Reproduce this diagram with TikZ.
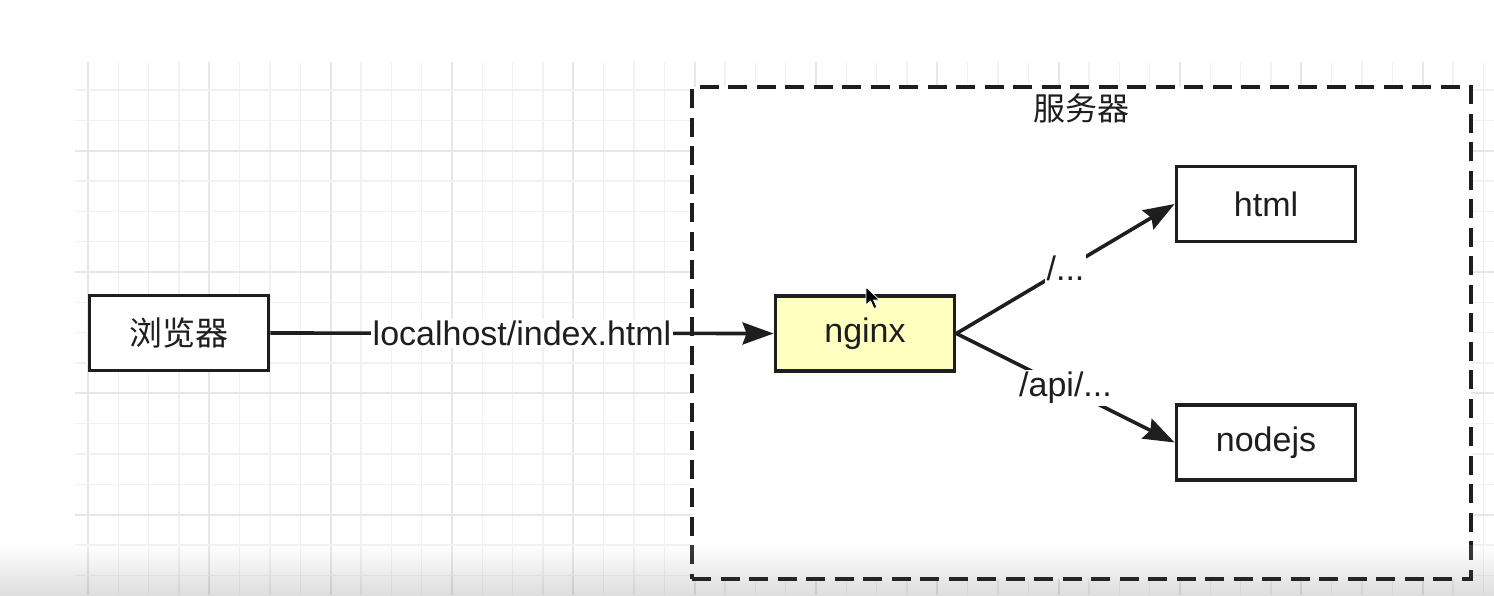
\documentclass[tikz,border=0pt]{standalone}
\usepackage{fontspec}
\setmainfont{Liberation Sans}
\newfontfamily\cjk{Noto Sans CJK SC}
\usetikzlibrary{arrows.meta}
\definecolor{linec}{HTML}{1E1E1E}
\definecolor{gridminor}{HTML}{F1F1F1}
\definecolor{gridmajor}{HTML}{E7E7E7}
\definecolor{nginxfill}{HTML}{FFFFC0}
\begin{document}
\begin{tikzpicture}[x=1pt,y=-1pt,
  gminor/.style={draw=gridminor, line width=1.4pt},
  gmajor/.style={draw=gridmajor, line width=1.8pt},
  box/.style={draw=linec, line width=3.8pt, fill=white, minimum width=179pt, minimum height=75pt, inner sep=0pt, text=linec, font=\fontsize{34}{40}\selectfont},
  flow/.style={draw=linec, line width=3.6pt, -{Stealth[length=31pt,width=22pt,inset=4pt]}},
  elabel/.style={fill=white, inner sep=2pt, text=linec, font=\fontsize{34}{40}\selectfont},
  serverbox/.style={draw=linec, line width=3.8pt, dash pattern=on 19pt off 9.5pt, fill=white, minimum width=779pt, minimum height=492pt, inner sep=0pt},
]
\useasboundingbox (0,0) rectangle (1494,595);
\fill[white] (0,0) rectangle (1494,595);
% grid
\foreach \i in {0,...,46}{
  \pgfmathtruncatemacro\m{mod(\i,4)}
  \ifnum\m=0
    \draw[gmajor] ({88+30.333*\i},62) -- ({88+30.333*\i},595);
  \else
    \draw[gminor] ({88+30.333*\i},62) -- ({88+30.333*\i},595);
  \fi
}
\foreach \j in {0,...,16}{
  \pgfmathtruncatemacro\m{mod(\j,4)}
  \ifnum\m=2
    \draw[gmajor] (75,{90+30.333*\j}) -- (1494,{90+30.333*\j});
  \else
    \draw[gminor] (75,{90+30.333*\j}) -- (1494,{90+30.333*\j});
  \fi
}
% server container
\node[serverbox] (server) at (1081.5,333) {};
\node[text=linec, font=\cjk\fontsize{32}{38}\selectfont, inner sep=0pt] (serverlabel) at (1081,108) {服务器};
% nodes
\node[box, font=\cjk\fontsize{33}{40}\selectfont] (browser) at (179,333) {浏览器};
\node[box, fill=nginxfill] (nginx) at (865,333.5) {nginx};
\node[box] (html) at (1266,204) {html};
\node[box] (nodejs) at (1266,442.5) {nodejs};
% connectors
\draw[flow] (browser.east) -- node[elabel] (l1) {localhost/index.html} (nginx.west);
\draw[flow] (nginx.east) -- node[elabel] (l2) {/...} (html.west);
\draw[flow] (nginx.east) -- node[elabel] (l3) {/api/...} (nodejs.west);
% mouse cursor
\fill[black, draw=white, line width=0.8pt, line join=round] (866,287) -- ++(0,18) -- ++(4.5,-4) -- ++(3.5,7.5) -- ++(3,-1.3) -- ++(-3.5,-7.2) -- ++(6,0) -- cycle;
% bottom shade overlay
\shade[top color=white, bottom color=black, opacity=0.13] (0,545) rectangle (1494,595);
\end{tikzpicture}
\end{document}
